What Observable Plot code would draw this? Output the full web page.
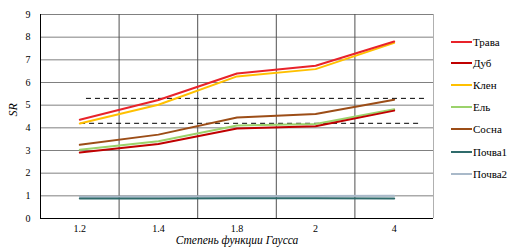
<!DOCTYPE html>
<html><head><meta charset="utf-8">
<script src="https://cdn.jsdelivr.net/npm/d3@7"></script>
<script src="https://cdn.jsdelivr.net/npm/@observablehq/plot@0.6"></script>
<style>
body{margin:0;background:#fff;}
#wrap{position:relative;width:530px;height:251px;}
#wrap svg, #wrap svg text{font-family:"Liberation Serif","Times New Roman","DejaVu Serif",serif !important;}
#legend{position:absolute;left:451px;top:0;font-family:"Liberation Serif","Times New Roman","DejaVu Serif",serif;font-size:11px;color:#000;}
.li{position:absolute;left:0;white-space:nowrap;display:flex;align-items:center;}
.li span.sw{display:inline-block;width:21px;height:2px;margin-right:1px;}
</style>
</head><body><div id="wrap"><div id="legend"></div></div>
<script>
const categories = ["1.2", "1.4", "1.8", "2", "4"];
const seriesNames = ["Трава", "Дуб", "Клен", "Ель", "Сосна", "Почва1", "Почва2"];
const seriesColors = ["#e8232a", "#c00000", "#ffc000", "#9bd26b", "#9c4d17", "#2f6b6b", "#a9b9c9"];
const trava  = [4.36, 5.23, 6.40, 6.74, 7.81];
const dub    = [2.91, 3.29, 3.97, 4.07, 4.76];
const klen   = [4.19, 5.02, 6.27, 6.59, 7.75];
const el     = [3.03, 3.41, 4.10, 4.17, 4.82];
const sosna  = [3.25, 3.70, 4.46, 4.61, 5.24];
const pochva1 = [0.88, 0.88, 0.89, 0.89, 0.88];
const pochva2 = [0.96, 0.97, 0.98, 0.99, 1.00];
const seriesValues = [trava, dub, klen, el, sosna, pochva1, pochva2];
const yTicks = [0, 1, 2, 3, 4, 5, 6, 7, 8, 9];
// dashed reference levels, with start/end in category-slot units
const dashLevels = [5.30, 4.20];
const dashStart = [0.585, 0.51];
const dashEnd = [4.92, 4.86];

const rows = [];
seriesNames.forEach((s, si) => {
  seriesValues[si].forEach((v, i) => rows.push({series: s, x: i + 0.5, y: v}));
});
const dashRows = dashLevels.map((y, i) => ({y, x1: dashStart[i], x2: dashEnd[i]}));
const xTickPos = categories.map((c, i) => i + 0.5);
const slotBounds = categories.slice(1).map((c, i) => i + 1);

const drawOrder = seriesNames.slice().reverse();
const lineMarks = drawOrder.map(s => Plot.line(rows.filter(r => r.series === s), {
  x: "x", y: "y", stroke: seriesColors[seriesNames.indexOf(s)], strokeWidth: 2
}));

const chart = Plot.plot({
  width: 530, height: 251,
  marginLeft: 40, marginRight: 97, marginTop: 14, marginBottom: 33,
  style: {fontFamily: "'Liberation Serif', 'Times New Roman', serif", fontSize: "10px", background: "#fff"},
  x: {domain: [0, 5]},
  y: {domain: [0, 9]},
  marks: [
    Plot.gridY(yTicks, {stroke: "#808080", strokeOpacity: 1}),
    Plot.ruleX(slotBounds, {stroke: "#505050", strokeOpacity: 1}),
    Plot.ruleX([5], {stroke: "#b0b0b0"}),
    Plot.ruleY(dashRows, {y: "y", x1: "x1", x2: "x2", stroke: "#000", strokeDasharray: "5,4", strokeWidth: 1}),
    ...lineMarks,
    Plot.ruleX([0], {stroke: "#000"}),
    Plot.ruleY([0], {stroke: "#000"}),
    Plot.axisY(yTicks, {tickSize: 0, tickPadding: 10, label: null, fontSize: 10}),
    Plot.axisX(xTickPos, {tickSize: 0, tickPadding: 6, tickFormat: (d) => categories[Math.round(d - 0.5)], label: null, fontSize: 10}),
    Plot.text(["Степень функции Гаусса"], {frameAnchor: "bottom", dy: 25, fontStyle: "italic", fontSize: 11.5}),
    Plot.text(["SR"], {frameAnchor: "left", dx: -27, rotate: -90, fontStyle: "italic", fontSize: 12})
  ]
});
document.getElementById("wrap").prepend(chart);

const legendYs = [42, 63, 85, 107, 129, 152, 174];
const leg = document.getElementById("legend");
seriesNames.forEach((s, i) => {
  const d = document.createElement("div");
  d.className = "li";
  d.style.top = (legendYs[i] - 7) + "px";
  d.style.height = "14px";
  d.innerHTML = `<span class="sw" style="background:${seriesColors[i]}"></span>${s}`;
  leg.appendChild(d);
});
</script>
</body></html>
